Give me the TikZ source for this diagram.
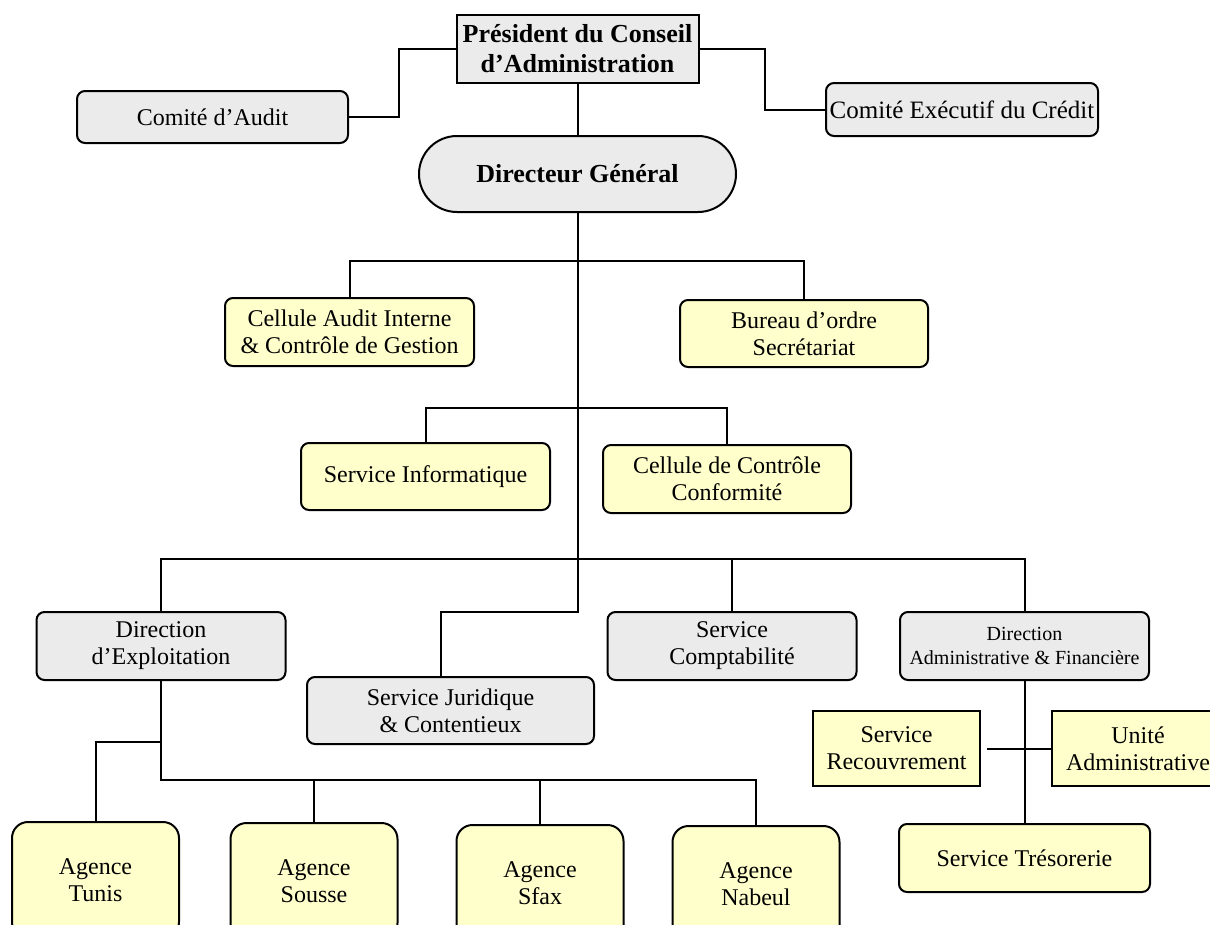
\documentclass[tikz,border=0pt]{standalone}
\usepackage{fontspec}
\setmainfont{Liberation Serif}
\definecolor{boxgrey}{HTML}{EBEBEB}
\definecolor{boxyellow}{HTML}{FFFFCC}
\newcommand{\radius}{8pt}
\tikzset{
  unit/.style={draw,line width=2pt,align=center,inner sep=2pt,font=\fontsize{24}{27}\selectfont},
  sz/.style 2 args={minimum width=#1pt,minimum height=#2pt},
  greybox/.style={unit,fill=boxgrey,rounded corners=\radius},
  yellowbox/.style={unit,fill=boxyellow,rounded corners=\radius},
  agencebox/.style={yellowbox,rounded corners=16pt,sz={167}{116}},
  link/.style={line width=2pt}
}

\begin{document}
\begin{tikzpicture}[x=1pt,y=-1pt]
    \useasboundingbox (0,0) rectangle (1210,924);
    \clip (0,0) rectangle (1210,924);
    % draw the top of the chart
    \node[greybox,sharp corners,sz={242}{68},font=\bfseries\fontsize{26}{30}\selectfont] (pres) at (577.5,49) {Président du Conseil\\d’Administration};
    \node[greybox,sz={271}{52}] (audit) at (212.5,117) {Comité d’Audit};
    \node[greybox,sz={272}{53},inner xsep=0pt,font=\fontsize{25}{28}\selectfont] (exec) at (962,109.5) {Comité Exécutif du Crédit};
    \node[greybox,rounded corners=38pt,sz={317}{76},font=\bfseries\fontsize{26}{30}\selectfont] (dg) at (577.5,174) {Directeur Général};
    \draw[link] (pres.west) -- ++(-57,0) |- (audit.east);
    \draw[link] (pres.east) -- ++(65,0) |- (exec.west);
    \draw[link] (pres.south) -- (dg.north);
    % draw the staff units
    \node[yellowbox,sz={249}{68}] (cai) at (349.5,332) {Cellule Audit Interne\\\& Contrôle de Gestion};
    \node[yellowbox,sz={248}{67}] (bur) at (804,333.5) {Bureau d’ordre\\Secrétariat};
    \node[yellowbox,sz={249}{67}] (info) at (425.5,476.5) {Service Informatique};
    \node[yellowbox,sz={248}{68}] (conf) at (727,479) {Cellule de Contrôle\\Conformité};
    % draw the directions
    \node[greybox,sz={249}{68}] (dexp) at (161,646) {Direction\\d’Exploitation};
    \node[greybox,sz={287}{67}] (jur) at (450.5,710.5) {Service Juridique\\\& Contentieux};
    \node[greybox,sz={249}{68}] (compta) at (732,646) {Service\\Comptabilité};
    \node[greybox,sz={249}{68},font=\fontsize{20}{24}\selectfont] (daf) at (1024.5,646) {Direction\\Administrative \& Financière};
    % the trunk and its branches
    \coordinate (h1) at (577.5,261);
    \coordinate (h2) at (577.5,408);
    \coordinate (h3) at (577.5,559);
    \coordinate (jt) at (577.5,612);
    \draw[link] (dg.south) -- (jt) -| ([xshift=-9.5pt]jur.north);
    \draw[link] (cai.north) |- (h1) -| (bur.north);
    \draw[link] (info.north) |- (h2) -| (conf.north);
    \draw[link] (dexp.north) |- (h3) -| (daf.north);
    \draw[link] (h3 -| compta.north) -- (compta.north);
    % draw the agencies
    \foreach \name/\xx/\yy/\town in {tunis/95.5/880/Tunis, sousse/314/881/Sousse, sfax/540/883/Sfax, nabeul/756/884/Nabeul}
    \node[agencebox] (\name) at (\xx,\yy) {Agence\\\town};
    \coordinate (tb) at ([yshift=-61pt]dexp.south);
    \coordinate (ag) at ([yshift=-99pt]dexp.south);
    \draw[link] (dexp.south) -- (ag) -| (nabeul.north);
    \draw[link] (tb) -| (tunis.north);
    \foreach \name in {sousse,sfax}
    \draw[link] (ag -| \name.north) -- (\name.north);
    % draw the services under the DAF
    \node[yellowbox,sharp corners,sz={167}{75}] (recouv) at (896.5,748.5) {Service\\Recouvrement};
    \node[yellowbox,sharp corners,sz={172}{75}] (unite) at (1138,748.5) {Unité\\Administrative};
    \node[yellowbox,sz={251}{68}] (treso) at (1024.5,858) {Service Trésorerie};
    \draw[link] (daf.south) -- (treso.north);
    \draw[link] ([xshift=6pt]recouv.east) -- (unite.west);
\end{tikzpicture}
\end{document}
